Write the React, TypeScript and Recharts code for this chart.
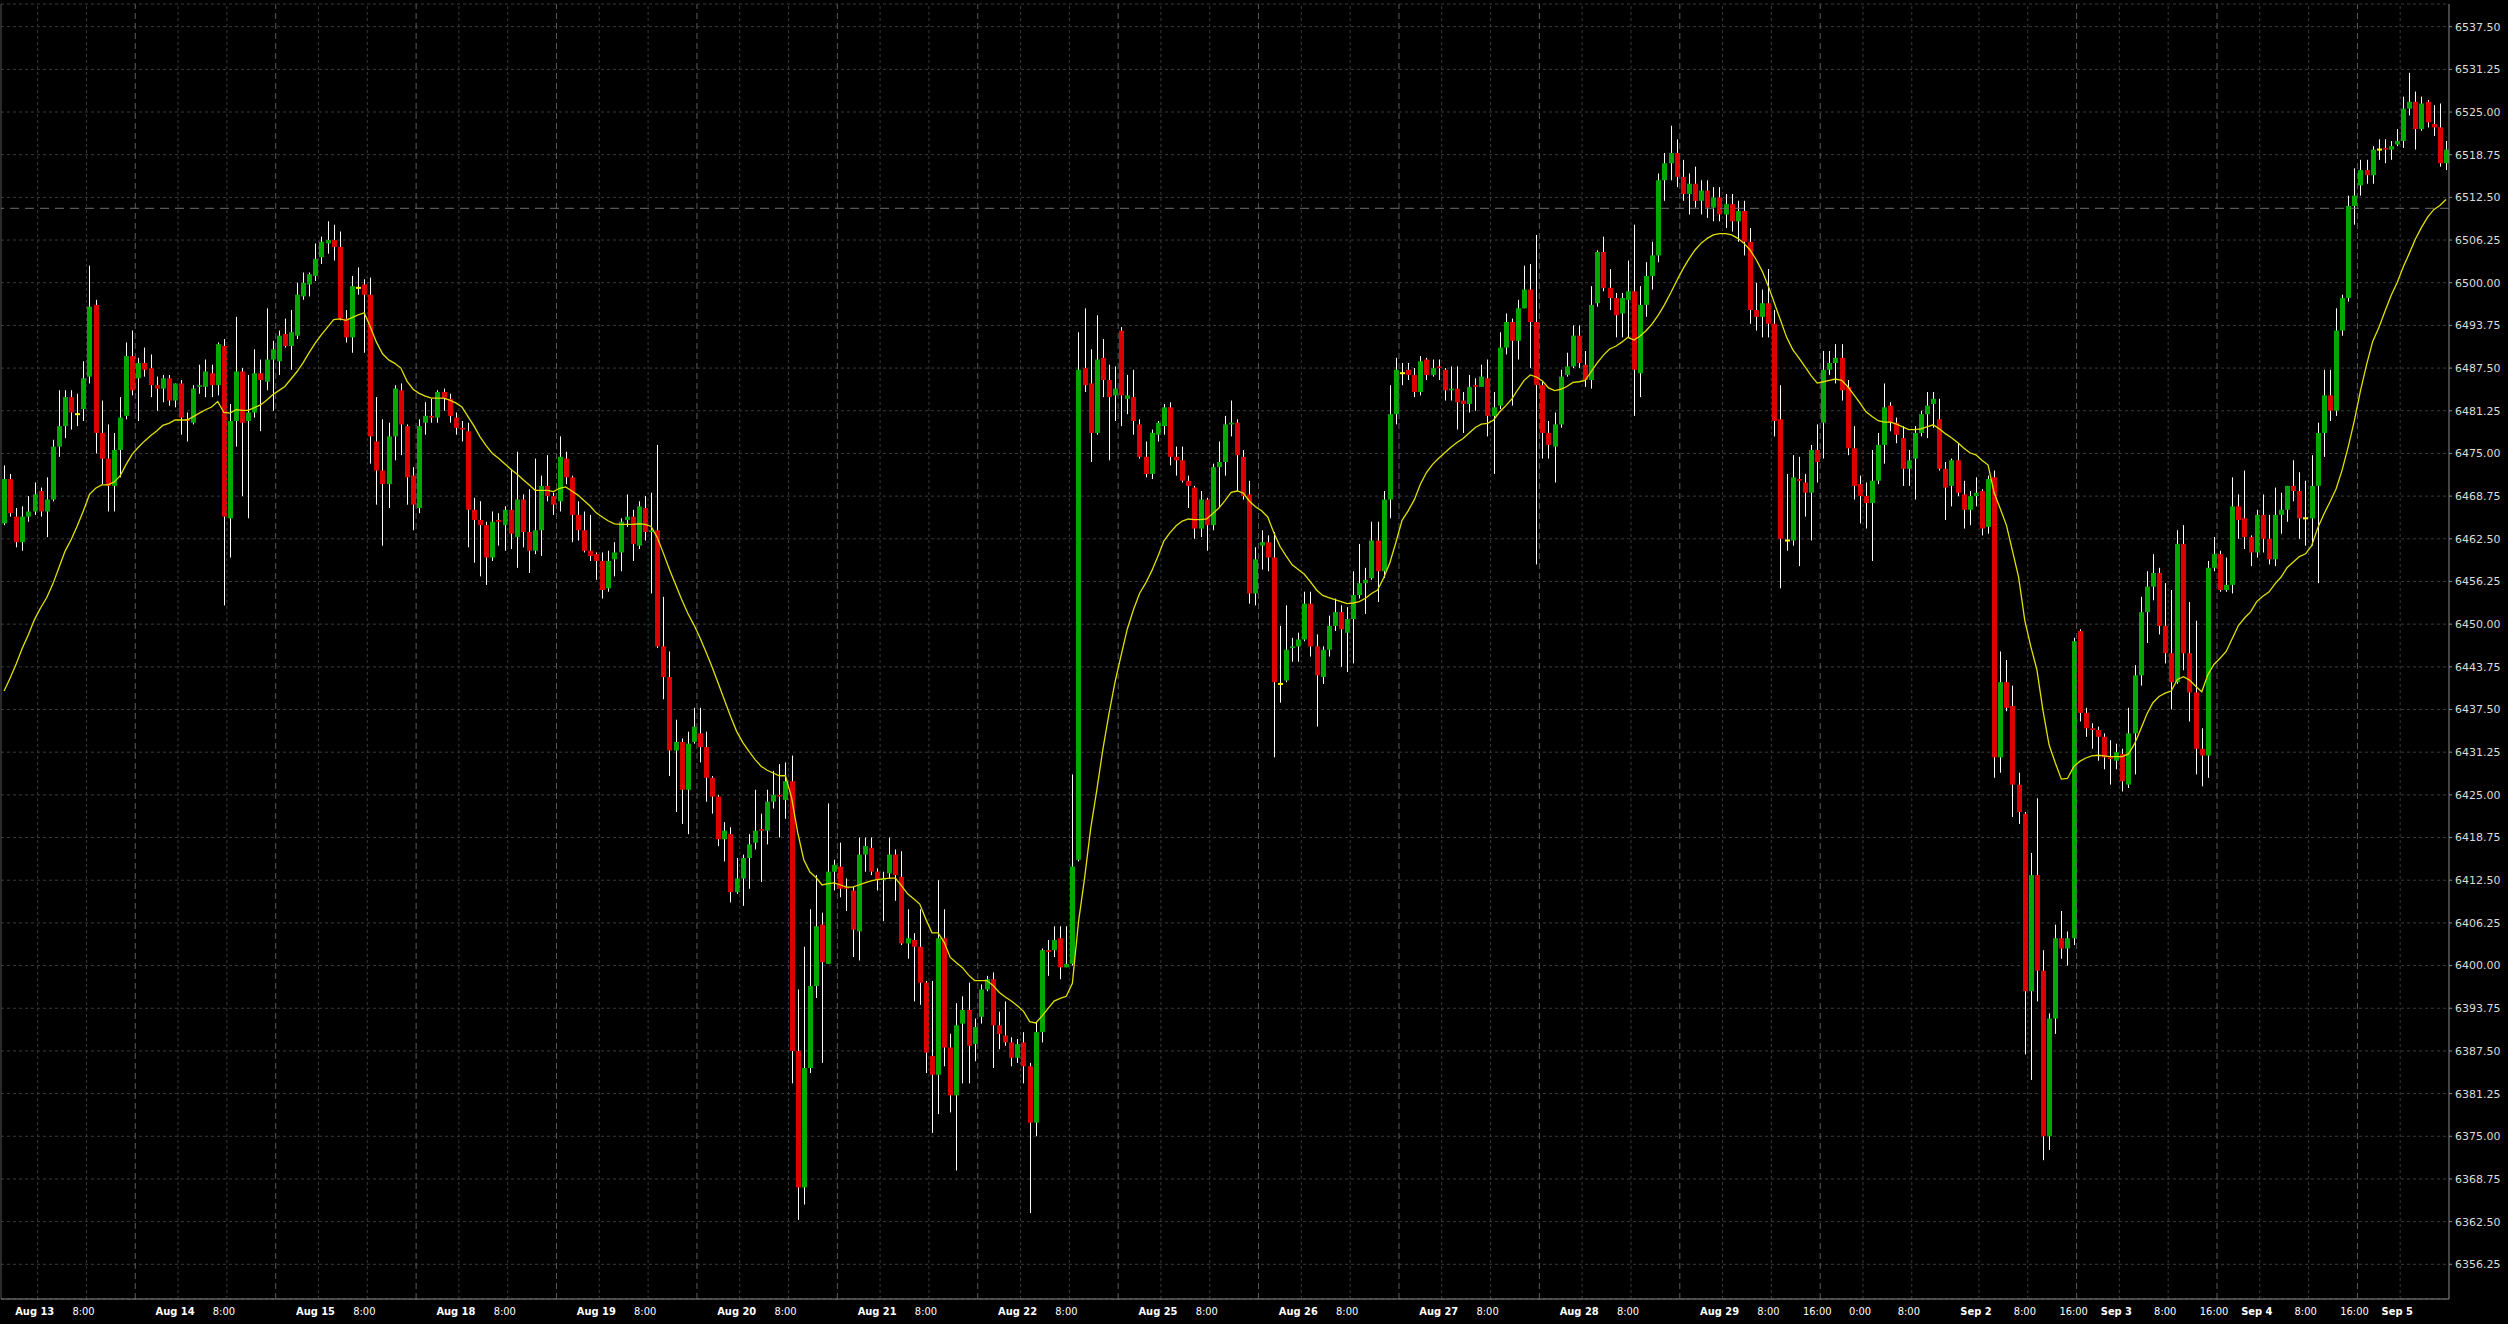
import React from 'react';
import { ComposedChart, Bar, Line, XAxis, YAxis, CartesianGrid, ReferenceLine } from 'recharts';

// hourly candles, Aug 12 18:00 -> Sep 5 08:00
const opens = [
  6464.75, 6471.25, 6465.75, 6462, 6465.75, 6466.5, 6469.5, 6466.5, 6468.25, 6476, // 0
  6479, 6483.25, 6480.75, 6481.5, 6486.25, 6496.75, 6478, 6474.25, 6470.25, 6475.5, // 10
  6480.5, 6489.25, 6486, 6488.25, 6487.5, 6485, 6484.5, 6486, 6482.75, 6485.25, // 20
  6480, 6479.5, 6484.75, 6484.75, 6486.75, 6485, 6490.75, 6465.5, 6479.75, 6487, // 30
  6479.75, 6481, 6486.75, 6485.5, 6488.75, 6488.5, 6492.5, 6490.75, 6492.25, 6498, // 40
  6499.75, 6501, 6503.75, 6505.75, 6506.25, 6505.25, 6494.75, 6492, 6499.25, 6499.75, // 50
  6498.25, 6476.75, 6472.5, 6470.5, 6477.5, 6484.25, 6479, 6471.75, 6467, 6479.5, // 60
  6480.5, 6480.25, 6484, 6483, 6480.25, 6478.75, 6478.25, 6466.75, 6465.25, 6464.5, // 70
  6459.75, 6465.25, 6464.5, 6466.75, 6462.75, 6468.25, 6463.5, 6460.75, 6463.75, 6470.25, // 80
  6468.75, 6468, 6474.25, 6471.5, 6466, 6463.75, 6460.75, 6460.25, 6459.25, 6455.25, // 90
  6459.5, 6460.5, 6465.25, 6465.75, 6461.5, 6467, 6463.5, 6463.75, 6446.75, 6442.25, // 100
  6431.5, 6432.75, 6425.75, 6432.75, 6434, 6432, 6427.5, 6424.75, 6418.5, 6419.25, // 110
  6410.75, 6412.75, 6415.75, 6418, 6420, 6419.75, 6424, 6425, 6424.25, 6427, // 120
  6387.5, 6367.5, 6385, 6397, 6406, 6400.25, 6413.75, 6414.5, 6411.5, 6411, // 130
  6405, 6416.25, 6417.25, 6413.75, 6412.5, 6413.5, 6416.25, 6413, 6403.25, 6403.75, // 140
  6402.75, 6397.5, 6386.75, 6384, 6404, 6388, 6381, 6391.5, 6393.5, 6388.5, // 150
  6392.5, 6396.5, 6398, 6391.25, 6389.75, 6388.75, 6386.5, 6388.75, 6385.25, 6377, // 160
  6390.25, 6402.25, 6402.25, 6404, 6399.75, 6400.25, 6415.5, 6487.5, 6485.25, 6478, // 170
  6489, 6485.75, 6483.5, 6493, 6483, 6483.25, 6479.25, 6474.5, 6472, 6477.75, // 180
  6479, 6481.75, 6474.5, 6474, 6471, 6470, 6464, 6468.25, 6464.5, 6473, // 190
  6473.75, 6479.25, 6479.5, 6474.5, 6469, 6454.5, 6461.5, 6462, 6459.75, 6441.25, // 200
  6441.75, 6446.5, 6446.75, 6447.75, 6453, 6446.75, 6442.25, 6446.25, 6449.75, 6451.75, // 210
  6448.75, 6450.75, 6454.25, 6456, 6456.75, 6462.25, 6457.75, 6468.25, 6480.75, 6486.75, // 220
  6487.25, 6486.5, 6484, 6488.75, 6486.5, 6487.75, 6487.25, 6484.25, 6484.5, 6482.75, // 230
  6482.25, 6485, 6484.75, 6486, 6480.5, 6482, 6490.5, 6494.25, 6491.5, 6496.25, // 240
  6499, 6494.25, 6485, 6478, 6476, 6479.25, 6486.5, 6487.75, 6492.25, 6488, // 250
  6485.75, 6497, 6504.5, 6499.25, 6497.75, 6495.5, 6497.5, 6498.75, 6486.75, 6496.75, // 260
  6501, 6504, 6515, 6517.5, 6519, 6515.5, 6513, 6514.5, 6512, 6513.5, // 270
  6511, 6512.5, 6510, 6511.5, 6509, 6510.5, 6506, 6496, 6495, 6497, // 280
  6494, 6480, 6462.25, 6462.25, 6471.25, 6470.75, 6469.25, 6475.5, 6479.5, 6487.25, // 290
  6488.25, 6489, 6484.75, 6475.75, 6470.5, 6468.75, 6467.75, 6471, 6476.25, 6482, // 300
  6479.5, 6477.25, 6472.75, 6474.25, 6478, 6480.75, 6482.25, 6480, 6472.75, 6470.25, // 310
  6474, 6469, 6466.75, 6468.75, 6469.5, 6464.25, 6471.5, 6430.5, 6441.5, 6438, // 320
  6426.5, 6422.25, 6396.25, 6413.25, 6399.25, 6375, 6392.25, 6404, 6402.5, 6404, // 330
  6449, 6437, 6434.75, 6434.5, 6433.5, 6430.5, 6430, 6431, 6426.5, 6434, // 340
  6442.5, 6451.75, 6455.5, 6457.5, 6449.75, 6445.75, 6441.5, 6461.75, 6445.75, 6440, // 350
  6431.75, 6430.75, 6458.25, 6460.25, 6455, 6455.75, 6467.25, 6465.5, 6462.75, 6460.5, // 360
  6466, 6462.5, 6459.5, 6466, 6466.75, 6470.25, 6469.5, 6465.5, 6465.5, 6470.25, // 370
  6478, 6483.5, 6481.25, 6493, 6497.75, 6511.25, 6514.25, 6516.5, 6515.75, 6519.5, // 380
  6519.75, 6519.5, 6520.25, 6520.75, 6525.5, 6526.5, 6522.5, 6526.5, 6523.25, 6522.75, // 390
  6517.5, // 400
];

const highs = [
  6473.25, 6472, 6467, 6467.25, 6468.75, 6470.75, 6470, 6471.5, 6477, 6484.25,
  6484.25, 6484.25, 6483.75, 6488.5, 6502.5, 6497.5, 6482.75, 6479.25, 6478, 6483.25,
  6491.25, 6493, 6489, 6490.5, 6489.5, 6486.25, 6486.5, 6486.5, 6485.25, 6485.75,
  6481, 6485, 6488, 6488.75, 6488, 6491.25, 6491.75, 6482.25, 6495, 6487.5,
  6486.5, 6490.25, 6488.75, 6496.25, 6491.5, 6493, 6494.75, 6496, 6500, 6501.5,
  6501.5, 6505.75, 6506.75, 6509, 6508.5, 6507.5, 6496, 6501, 6502.25, 6500.5,
  6500.75, 6483.25, 6480, 6479.5, 6485, 6485.25, 6479.25, 6473, 6480, 6482.5,
  6483, 6484.25, 6484.5, 6483.75, 6481, 6479.75, 6479.5, 6468.5, 6468, 6465,
  6466.5, 6466.25, 6467.25, 6472.75, 6475.25, 6469, 6469.75, 6474.25, 6471.75, 6474.75,
  6469.25, 6477.5, 6475.25, 6471.75, 6468, 6466.5, 6466, 6460.5, 6460.5, 6460.75,
  6462, 6465.5, 6469, 6466.75, 6468, 6468.75, 6469.25, 6476.25, 6454, 6446,
  6436, 6433.25, 6434.25, 6437.75, 6437.75, 6434.25, 6427.75, 6425, 6421, 6420.25,
  6415.75, 6416.25, 6419.25, 6425.75, 6422.25, 6425.75, 6428.5, 6429.5, 6429.75, 6430.75,
  6396.5, 6402.75, 6408.25, 6413.25, 6407.75, 6423.75, 6415.5, 6418, 6412.75, 6411.5,
  6418.75, 6418.75, 6418.75, 6414.25, 6413.75, 6418.75, 6417, 6416.75, 6408.25, 6404.75,
  6408.25, 6397.75, 6397.75, 6412.5, 6408.25, 6390, 6394.5, 6395.5, 6397.5, 6392.25,
  6397.25, 6398.5, 6399, 6393.25, 6394.75, 6389.5, 6389.25, 6390.25, 6385.75, 6391.75,
  6402.5, 6403.75, 6405.75, 6405.75, 6405.75, 6428, 6492.75, 6496.25, 6490.25, 6495.25,
  6491.75, 6488, 6487.75, 6493.5, 6486.5, 6487.25, 6480, 6476.75, 6478.5, 6479.75,
  6482.25, 6482.5, 6476, 6476, 6471.75, 6470.25, 6469.5, 6468.5, 6473.5, 6476.75,
  6480.5, 6482.75, 6480, 6475.5, 6471, 6461.25, 6463.75, 6463, 6463.5, 6449.75,
  6452.75, 6448, 6448.75, 6454.75, 6454.75, 6448.5, 6446.75, 6451.25, 6453.75, 6452.75,
  6452.5, 6457.75, 6461.75, 6458.25, 6465, 6465, 6469.5, 6485, 6489, 6488.25,
  6488.25, 6487.5, 6489.25, 6489, 6488.75, 6488.75, 6487.5, 6487.75, 6487.75, 6484,
  6486.5, 6486, 6488, 6488.75, 6484, 6492.75, 6495.5, 6494.75, 6497.5, 6502.5,
  6502.75, 6507, 6485.5, 6479.75, 6481, 6487.25, 6489.75, 6493.75, 6493.75, 6490,
  6499.5, 6504.75, 6506.75, 6502, 6498.5, 6498.5, 6503.25, 6508.5, 6499.5, 6503,
  6506, 6516, 6519, 6523, 6521, 6518, 6516, 6517, 6515, 6515,
  6514, 6514, 6513, 6513, 6512, 6512, 6508, 6500, 6499, 6502,
  6496, 6485, 6472, 6474.75, 6474.5, 6472, 6476.25, 6479.25, 6490, 6490,
  6491, 6491, 6485.75, 6479, 6471.75, 6470.75, 6475.5, 6478, 6485.25, 6482.5,
  6480.25, 6479, 6475.5, 6479, 6481.25, 6484, 6484, 6483, 6473.75, 6474.25,
  6476.5, 6471, 6469.5, 6471.5, 6469.75, 6471.75, 6472.5, 6446, 6444.75, 6441,
  6428.25, 6422.5, 6416.5, 6424.5, 6402.25, 6393, 6406, 6408, 6405, 6448,
  6449.25, 6437.75, 6435.5, 6435, 6434, 6433, 6432.5, 6431.75, 6437.75, 6444,
  6454, 6457.75, 6460.25, 6458.25, 6456, 6455, 6463.75, 6464.5, 6453.25, 6450.5,
  6434.75, 6459.25, 6462.75, 6460.75, 6459.75, 6471.5, 6469, 6472.5, 6463, 6466.75,
  6469, 6466, 6470, 6469.25, 6470.25, 6474, 6472.25, 6471, 6474.75, 6479.5,
  6487.25, 6487.25, 6496.25, 6498.25, 6512.75, 6516.75, 6518, 6518, 6520, 6521,
  6521, 6520.75, 6522.5, 6527.25, 6530.75, 6528, 6527.25, 6526.75, 6526, 6526.25,
  6520.75,
];

const lows = [
  6464.5, 6465.75, 6461.25, 6460.75, 6465, 6466, 6465.75, 6462.75, 6468, 6474.5,
  6477.25, 6478.5, 6479, 6479.75, 6485.25, 6475, 6470.5, 6466.5, 6466.5, 6471.5,
  6480, 6483.5, 6479.75, 6486.25, 6483.25, 6481.25, 6482.5, 6482, 6481.75, 6477.75,
  6476.75, 6479.25, 6483.75, 6483.25, 6483.25, 6483.5, 6452.75, 6459.75, 6476, 6468.75,
  6465.5, 6480.25, 6478.25, 6484.25, 6481.25, 6486.5, 6490.5, 6487.25, 6491.75, 6497.5,
  6498, 6500.25, 6502.75, 6504.25, 6503.25, 6494.5, 6491.25, 6489.75, 6498.25, 6489.75,
  6473.5, 6467.5, 6461.5, 6467, 6474, 6474.75, 6467.5, 6463.75, 6466.25, 6477.75,
  6479.5, 6479.5, 6481.25, 6479.5, 6477.75, 6476.75, 6461.25, 6459, 6457, 6455.75,
  6459.25, 6461.5, 6460.75, 6461, 6458.25, 6461.25, 6457.5, 6460.25, 6460, 6468,
  6466, 6466.5, 6470.5, 6462, 6462.25, 6460.5, 6459.25, 6456.5, 6453.75, 6454.75,
  6457, 6457.75, 6464.25, 6459.25, 6461, 6462.25, 6454.5, 6446.5, 6439, 6427.75,
  6422.5, 6420.75, 6419.25, 6432.5, 6429.75, 6424, 6422.25, 6417.5, 6415.25, 6409.25,
  6410.5, 6408.75, 6411.25, 6417, 6412.25, 6417.75, 6423, 6418.75, 6421.5, 6382.75,
  6362.75, 6365, 6384.25, 6395.25, 6385.75, 6400.25, 6411, 6410, 6408, 6401.25,
  6400.75, 6413.75, 6413.25, 6411, 6406.5, 6412.75, 6409.5, 6403, 6401, 6394.75,
  6394.25, 6384.25, 6375.5, 6378.25, 6385.25, 6378.5, 6370, 6382.75, 6382.75, 6386,
  6391.5, 6396.25, 6385, 6387.75, 6388.25, 6385.25, 6385.75, 6382.75, 6363.75, 6375,
  6388.75, 6398.5, 6401.25, 6398, 6399.75, 6400, 6415.25, 6484, 6473.75, 6477.75,
  6483.25, 6474, 6479.75, 6479, 6480.75, 6477.75, 6474.25, 6471.5, 6471.25, 6476.75,
  6477.75, 6473.25, 6471.75, 6470.75, 6467, 6462.5, 6462.75, 6460.75, 6463.75, 6467,
  6471.75, 6477.5, 6469.5, 6468.25, 6453, 6452.75, 6458, 6457.75, 6430.5, 6438.5,
  6441.5, 6444.5, 6444.5, 6447.5, 6445.25, 6435, 6441.25, 6445.25, 6449, 6443.75,
  6443, 6444.25, 6453.75, 6451.5, 6456.5, 6453.25, 6456.75, 6465.5, 6479.25, 6485,
  6485.75, 6483.25, 6483.5, 6485.75, 6486.25, 6485.75, 6482.75, 6482.75, 6478.5, 6478,
  6481, 6481.25, 6484.75, 6477.5, 6472, 6481.5, 6489.5, 6482, 6488.75, 6496.25,
  6487.5, 6458.75, 6474.25, 6474.25, 6470.75, 6478.75, 6486.25, 6487.5, 6487.5, 6484.75,
  6484.5, 6496.5, 6498.75, 6496, 6492, 6492, 6492, 6480.5, 6483.25, 6495,
  6499, 6503, 6512, 6515, 6514, 6512, 6510, 6511, 6510, 6509.5,
  6509, 6509, 6508, 6507.5, 6506, 6504, 6494, 6493, 6492, 6492,
  6477.5, 6455.25, 6460.75, 6461.5, 6458.5, 6465.75, 6462.25, 6470.75, 6474.25, 6486.5,
  6485.25, 6482.75, 6474.75, 6468.25, 6464.75, 6464, 6459.25, 6470.5, 6473.5, 6478.25,
  6476.5, 6470.25, 6470.25, 6468.25, 6477.5, 6477.25, 6478.75, 6472.5, 6465.25, 6467.25,
  6468.75, 6464, 6464.5, 6467.25, 6463, 6463.25, 6427.5, 6428.25, 6437.25, 6421.75,
  6420.75, 6387, 6383.25, 6394.75, 6371.5, 6373, 6390, 6401, 6400, 6403,
  6435.75, 6433.5, 6431.75, 6430, 6428.75, 6426.5, 6428.75, 6425.5, 6426, 6428,
  6441, 6447.25, 6453.5, 6448.5, 6444.25, 6437.5, 6441.25, 6443.25, 6435.75, 6428,
  6426.25, 6427.5, 6457.75, 6454.75, 6454.75, 6454.5, 6462.5, 6461, 6458.5, 6459.75,
  6460.5, 6458.75, 6458.5, 6463.25, 6465, 6468, 6462.5, 6461.5, 6461.5, 6456,
  6474.5, 6479.75, 6480.5, 6492.25, 6497.25, 6508.5, 6512.75, 6514.5, 6514.5, 6518,
  6517.5, 6518, 6520, 6519.75, 6524.5, 6519.5, 6522.25, 6522.75, 6521.5, 6517,
  6516.5,
];

const closes = [
  6471.25, 6466.25, 6462, 6465.75, 6466.5, 6469, 6466.5, 6468.25, 6476, 6479,
  6483.25, 6481, 6480.75, 6486, 6496.5, 6478, 6474.25, 6470.25, 6475.5, 6480.25,
  6489.25, 6484.25, 6488.25, 6487.25, 6485, 6484.5, 6486, 6482.75, 6485.25, 6480.25,
  6479.75, 6484.5, 6485, 6487, 6485, 6491, 6465.75, 6479.75, 6487, 6479.5,
  6481, 6486.75, 6485.75, 6488.75, 6490.25, 6492.25, 6490.75, 6492.75, 6498.25, 6500,
  6501.25, 6503.5, 6506, 6506.25, 6505.25, 6494.75, 6492, 6499.5, 6499.25, 6498.25,
  6477.5, 6472.5, 6470.5, 6477.5, 6484.5, 6479.25, 6471.5, 6467.5, 6479, 6480.5,
  6480.25, 6484, 6483, 6480.5, 6478.75, 6478.5, 6466.75, 6465.25, 6464.5, 6459.75,
  6465, 6465, 6466.75, 6463.25, 6468.25, 6463.5, 6460.75, 6463.75, 6470.25, 6468.75,
  6467.5, 6474.5, 6471.5, 6466, 6463.75, 6460.75, 6460, 6459.25, 6455, 6459.25,
  6460.5, 6465, 6465.75, 6461.75, 6467.25, 6463.5, 6463.75, 6446.75, 6442.25, 6431.5,
  6432.75, 6425.75, 6432.5, 6435, 6432, 6427.5, 6424.75, 6418.5, 6419.75, 6410.75,
  6412.75, 6415.75, 6417.75, 6419.75, 6419.75, 6424, 6425, 6424.75, 6427, 6387.5,
  6367.5, 6385, 6397, 6405.75, 6400.5, 6413.75, 6414.75, 6411.25, 6411.25, 6405.25,
  6416.25, 6417.5, 6413.75, 6412.5, 6412.75, 6416.25, 6413.25, 6403.25, 6404, 6402.75,
  6397.5, 6387.25, 6384, 6404, 6388, 6381, 6391.25, 6393.5, 6388.25, 6391,
  6396.5, 6398, 6391.25, 6390, 6388.75, 6386.5, 6388.5, 6385.25, 6377, 6390.25,
  6402.25, 6402, 6403.75, 6399.75, 6400.25, 6414.5, 6487.25, 6485, 6478, 6488.75,
  6485.75, 6483.25, 6484.5, 6483.5, 6483.5, 6479.75, 6474.5, 6472, 6478, 6479.5,
  6481.75, 6474.5, 6474, 6471, 6470.25, 6464, 6468.25, 6464.5, 6473, 6473.75,
  6479.25, 6479.5, 6474.75, 6468.75, 6454.5, 6459.5, 6462, 6459.75, 6441.5, 6441.25,
  6446.25, 6446.75, 6447.75, 6453, 6446.75, 6442.5, 6446.25, 6449.75, 6451.75, 6449.25,
  6450.75, 6454.25, 6456, 6456.5, 6462.25, 6457.75, 6468.25, 6480.75, 6487.25, 6486.75,
  6486.5, 6484, 6488.5, 6486.5, 6487.5, 6487.5, 6484.25, 6484.5, 6482.5, 6482.25,
  6484.75, 6484.75, 6486.25, 6480.5, 6481.75, 6490.5, 6494.25, 6491.5, 6496.25, 6499,
  6494.25, 6485, 6478, 6476.25, 6479.25, 6486.25, 6487.75, 6492.25, 6488.25, 6485.75,
  6496.75, 6504.5, 6499.25, 6497.75, 6495.25, 6497.75, 6498.75, 6487.25, 6496.75, 6501,
  6504, 6515, 6517.5, 6519, 6515.5, 6513, 6514.5, 6512, 6513.5, 6511,
  6512.5, 6510, 6511.5, 6509, 6510.5, 6506, 6496, 6495, 6497, 6494,
  6479.75, 6462.5, 6462.25, 6471.5, 6471, 6469.25, 6475.5, 6473.75, 6487.25, 6488.25,
  6489, 6484.25, 6475.75, 6470.25, 6468.75, 6467.75, 6471, 6476.25, 6481.75, 6479.5,
  6477.75, 6472.75, 6474, 6478, 6480.75, 6482, 6483, 6472.75, 6470, 6474,
  6469.25, 6466.75, 6468.75, 6469.25, 6464, 6471.25, 6430.5, 6441.5, 6437.75, 6426.5,
  6422.5, 6396.25, 6413.25, 6399.25, 6375, 6392.25, 6404, 6402.5, 6404, 6447.5,
  6437, 6434.75, 6434.5, 6433.5, 6430.5, 6430.25, 6431.25, 6427, 6434, 6442.5,
  6451.75, 6455.5, 6457.5, 6449.75, 6445.75, 6441.5, 6461.75, 6445.75, 6440, 6431.75,
  6430.75, 6458.25, 6460.25, 6455, 6455.75, 6467.25, 6465.25, 6462.75, 6460.5, 6466,
  6462.5, 6459.5, 6466, 6466.75, 6470.25, 6469.5, 6465.5, 6465.5, 6470.25, 6478,
  6483.5, 6481.25, 6493, 6497.75, 6511.25, 6512.75, 6516.5, 6515.75, 6519.5, 6519.5,
  6519.5, 6520, 6520.75, 6525.5, 6526.5, 6522.5, 6526.25, 6523.5, 6522.75, 6517.5,
  6519.5,
];

// yellow moving average
const maLine = [
  6440.2, 6442.1, 6444.2, 6446.5, 6448.5, 6450.7, 6452.4, 6453.9, 6455.9, 6458.3,
  6460.7, 6462.4, 6464.4, 6466.6, 6469.0, 6469.9, 6470.4, 6470.4, 6470.8, 6471.7,
  6473.4, 6474.9, 6475.9, 6476.8, 6477.6, 6478.3, 6479.1, 6479.4, 6479.9, 6479.9,
  6479.9, 6480.4, 6480.9, 6481.4, 6481.8, 6482.6, 6481.0, 6480.9, 6481.4, 6481.3,
  6481.3, 6481.7, 6482.1, 6482.8, 6483.6, 6484.2, 6484.8, 6485.9, 6487.0, 6488.3,
  6489.8, 6491.2, 6492.4, 6493.5, 6494.6, 6494.7, 6494.5, 6494.9, 6495.3, 6495.6,
  6493.5, 6491.3, 6489.6, 6488.7, 6488.2, 6487.5, 6485.6, 6484.4, 6483.8, 6483.4,
  6483.1, 6483.1, 6483.1, 6482.8, 6482.4, 6481.8, 6480.4, 6479.0, 6477.4, 6476.1,
  6475.0, 6474.3, 6473.5, 6472.7, 6472.0, 6471.2, 6470.4, 6469.6, 6469.6, 6469.6,
  6469.4, 6469.9, 6470.1, 6469.5, 6468.9, 6468.1, 6467.3, 6466.3, 6465.7, 6465.1,
  6464.7, 6464.6, 6464.6, 6464.6, 6464.7, 6464.6, 6464.3, 6462.7, 6460.4, 6458.0,
  6455.8, 6453.6, 6451.6, 6449.9, 6448.0, 6445.9, 6443.7, 6441.3, 6438.9, 6436.5,
  6434.3, 6432.7, 6431.4, 6430.2, 6429.2, 6428.6, 6428.2, 6427.8, 6427.8, 6424.6,
  6419.5, 6415.5, 6413.7, 6412.9, 6411.8, 6412.0, 6412.1, 6411.8, 6411.5, 6411.5,
  6411.8, 6412.1, 6412.4, 6412.6, 6412.7, 6412.8, 6412.8, 6411.7, 6410.5, 6409.8,
  6409.0, 6406.8, 6404.8, 6404.8, 6403.4, 6401.2, 6400.4, 6399.7, 6398.6, 6397.8,
  6397.8, 6397.8, 6397.1, 6396.1, 6395.4, 6394.8, 6394.1, 6393.3, 6391.8, 6391.6,
  6392.6, 6393.7, 6394.8, 6395.2, 6395.5, 6397.4, 6406.4, 6412.8, 6420.1, 6425.7,
  6431.7, 6436.9, 6441.6, 6445.5, 6449.3, 6452.1, 6454.5, 6456.0, 6457.8, 6459.9,
  6462.2, 6463.4, 6464.4, 6465.1, 6465.4, 6465.3, 6465.3, 6465.4, 6466.2, 6467.0,
  6468.1, 6469.3, 6469.5, 6469.2, 6468.0, 6467.2, 6466.6, 6465.7, 6463.4, 6461.4,
  6460.0, 6458.7, 6458.0, 6457.3, 6456.2, 6455.0, 6454.2, 6453.9, 6453.6, 6453.3,
  6453.0, 6453.1, 6453.3, 6453.8, 6454.5, 6455.0, 6456.8, 6459.0, 6462.0, 6465.2,
  6466.6, 6468.2, 6470.5, 6472.2, 6473.4, 6474.3, 6475.1, 6475.9, 6476.6, 6477.2,
  6478.0, 6478.8, 6479.3, 6479.4, 6479.9, 6481.1, 6482.0, 6483.0, 6484.4, 6485.7,
  6486.5, 6486.2, 6485.6, 6484.6, 6484.2, 6484.4, 6484.8, 6485.4, 6485.5, 6485.7,
  6487.0, 6488.3, 6489.4, 6490.3, 6490.7, 6491.3, 6492.0, 6491.6, 6492.2, 6493.0,
  6494.0, 6495.3, 6496.8, 6498.5, 6500.3, 6502.0, 6503.5, 6504.8, 6505.8, 6506.5,
  6507.0, 6507.2, 6507.2, 6507.0, 6506.5, 6505.8, 6504.8, 6503.4, 6501.7, 6499.5,
  6497.0, 6494.5, 6492.0, 6490.2, 6489.0, 6487.7, 6486.4, 6485.3, 6485.5, 6485.7,
  6485.9, 6485.7, 6484.8, 6483.6, 6482.4, 6481.1, 6480.4, 6479.8, 6479.6, 6479.6,
  6479.3, 6478.9, 6478.5, 6478.5, 6478.6, 6478.9, 6479.2, 6478.6, 6477.9, 6477.3,
  6476.6, 6475.8, 6475.1, 6474.8, 6474.0, 6473.3, 6469.2, 6466.9, 6464.5, 6460.7,
  6456.9, 6450.6, 6446.7, 6443.3, 6437.3, 6432.3, 6429.7, 6427.3, 6427.4, 6429.1,
  6429.9, 6430.4, 6430.7, 6430.8, 6430.7, 6430.6, 6430.6, 6430.6, 6431.0, 6432.5,
  6434.6, 6436.8, 6438.5, 6439.4, 6439.9, 6440.2, 6441.9, 6442.3, 6441.8, 6440.9,
  6440.1, 6442.6, 6444.1, 6445.0, 6446.0, 6447.9, 6449.8, 6450.9, 6451.8, 6453.3,
  6454.1, 6454.7, 6455.9, 6456.9, 6458.3, 6459.1, 6459.9, 6460.3, 6461.5, 6464.1,
  6466.1, 6467.9, 6469.8, 6472.6, 6476.0, 6479.8, 6484.2, 6488.0, 6491.4, 6493.4,
  6495.8, 6498.1, 6500.0, 6502.3, 6504.3, 6506.4, 6508.1, 6509.6, 6510.7, 6511.3,
  6512.2,
];

const priceTicks = [
  6356.25, 6362.5, 6368.75, 6375, 6381.25, 6387.5, 6393.75, 6400, 6406.25, 6412.5,
  6418.75, 6425, 6431.25, 6437.5, 6443.75, 6450, 6456.25, 6462.5, 6468.75, 6475,
  6481.25, 6487.5, 6493.75, 6500, 6506.25, 6512.5, 6518.75, 6525, 6531.25, 6537.5,
];

// candle index where each 8h grid line starts, with its label
const timeTickIdx = [
  6, 14, 22, 29, 37, 45, 52, 60, 68, 75, 83, 91, 98, 106, 114, 121, 129, 137,
  144, 152, 160, 167, 175, 183, 190, 198, 206, 213, 221, 229, 236, 244, 252,
  259, 267, 275, 282, 290, 298, 305, 313, 324, 332, 340, 347, 355, 363, 370, 378, 386, 393,
];
const timeTickText = [
  'Aug 13', '8:00', '', 'Aug 14', '8:00', '', 'Aug 15', '8:00', '', 'Aug 18', '8:00', '',
  'Aug 19', '8:00', '', 'Aug 20', '8:00', '', 'Aug 21', '8:00', '', 'Aug 22', '8:00', '',
  'Aug 25', '8:00', '', 'Aug 26', '8:00', '', 'Aug 27', '8:00', '', 'Aug 28', '8:00', '',
  'Aug 29', '8:00', '16:00', '0:00', '8:00', 'Sep 2', '8:00', '16:00', 'Sep 3', '8:00', '16:00',
  'Sep 4', '8:00', '16:00', 'Sep 5',
];
const brightIdx = [22, 45, 68, 91, 114, 137, 160, 183, 206, 229, 252, 275, 298, 340, 363, 386];

const refLevel = 6510.9;

const data = opens.map((o, i) => ({ i, o, h: highs[i], l: lows[i], c: closes[i], ma: maLine[i] }));

const UP = '#00a800';
const DOWN = '#dc0000';
const DOJI = '#ffff00';

function Candle(props: any) {
  const { x, y, width, height, payload } = props;
  if (!payload || x == null) return null;
  const { o, h, l, c } = payload;
  const top = Math.min(y, y + height);
  const span = Math.abs(height);
  const k = h > l ? span / (h - l) : 0;
  const py = (v: number) => top + (h - v) * k;
  const mid = Math.round(x + width / 2 - 0.5);
  const bTop = py(Math.max(o, c));
  const bBot = py(Math.min(o, c));
  const fill = c > o ? UP : c < o ? DOWN : DOJI;
  return (
    <g>
      <rect x={mid} y={top} width={1} height={span} fill="#ffffff" />
      {c === o ? (
        <rect x={mid - 2} y={bTop - 1} width={5} height={2} fill={fill} />
      ) : (
        <rect x={mid - 2} y={bTop} width={5} height={Math.max(bBot - bTop, 1.5)} fill={fill} />
      )}
    </g>
  );
}

function TimeTick(props: any) {
  const { x, y, payload } = props;
  const n = timeTickIdx.indexOf(payload.value);
  const txt = n >= 0 ? timeTickText[n] : '';
  if (!txt) return null;
  const isDate = /^[A-Z]/.test(txt);
  return (
    <text
      x={x - 6}
      y={y + 14}
      textAnchor="middle"
      fill="#ffffff"
      fontSize={11}
      fontWeight={isDate ? 'bold' : 'normal'}
      fontFamily="'DejaVu Sans Condensed', 'DejaVu Sans', sans-serif"
    >
      {txt}
    </text>
  );
}

export default function App() {
  return (
    <div style={{ width: 2508, height: 1324, background: '#000' }}>
      <style>{'body{margin:0;background:#000}'}</style>
      <ComposedChart
        width={2508}
        height={1324}
        data={data}
        margin={{ top: 4, right: 0, bottom: 0, left: 1 }}
        barCategoryGap={0}
      >
        <CartesianGrid vertical={false} stroke="#3a3a3a" strokeDasharray="3 3" />
        <XAxis
          dataKey="i"
          type="category"
          ticks={timeTickIdx}
          interval={0}
          tickLine={false}
          tickSize={0}
          axisLine={{ stroke: '#8a8a8a' }}
          height={25}
          tick={<TimeTick />}
        />
        <YAxis
          orientation="right"
          type="number"
          domain={[6351.17, 6540.82]}
          allowDataOverflow
          ticks={priceTicks}
          interval={0}
          width={59}
          tickSize={3}
          tickMargin={3}
          axisLine={{ stroke: '#8a8a8a' }}
          tickLine={{ stroke: '#8a8a8a' }}
          tick={{ fill: '#dcdcdc', fontSize: 11, fontFamily: 'DejaVu Sans' }}
          tickFormatter={(v: number) => v.toFixed(2)}
        />
        {timeTickIdx.map((v) => (
          <ReferenceLine
            key={'g' + v}
            x={v}
            position="start"
            stroke={brightIdx.includes(v) ? '#5a5a5a' : '#383838'}
            strokeDasharray={brightIdx.includes(v) ? '6 4' : '3 3'}
          />
        ))}
        <ReferenceLine x={0} position="start" stroke="#555555" />
        <ReferenceLine y={refLevel} stroke="#6e6e6e" strokeDasharray="9 6" />
        <Bar
          dataKey={(d: any) => [d.l, d.h]}
          barSize={5}
          shape={(p: any) => <Candle {...p} />}
          isAnimationActive={false}
        />
        <Line
          dataKey="ma"
          type="linear"
          stroke="#e0e000"
          strokeWidth={1.3}
          dot={false}
          activeDot={false}
          isAnimationActive={false}
        />
      </ComposedChart>
    </div>
  );
}
